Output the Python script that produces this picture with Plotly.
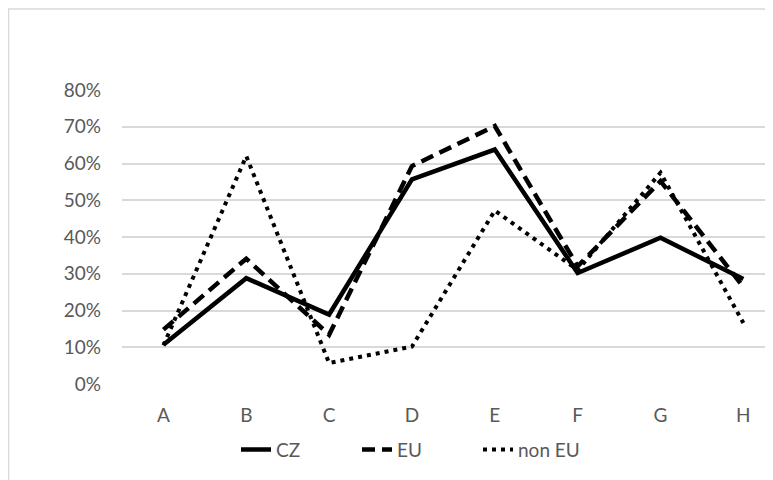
import plotly.graph_objects as go

categories = ["A", "B", "C", "D", "E", "F", "G", "H"]
cz = [0.107, 0.288, 0.189, 0.557, 0.638, 0.302, 0.398, 0.286]
eu = [0.148, 0.341, 0.134, 0.593, 0.702, 0.320, 0.552, 0.264]
non_eu = [0.105, 0.620, 0.057, 0.102, 0.472, 0.310, 0.575, 0.166]
y_ticks = [0, 0.1, 0.2, 0.3, 0.4, 0.5, 0.6, 0.7, 0.8]

# page body adds an 8px offset; figure coordinates below are page coords - 8
OFF = 8
W, H = 773 - OFF, 480 - OFF
L, R, T = 122 - OFF, 0, 90 - OFF
B = H - (384.3 - OFF)
pw, ph = W - L - R, H - T - B

def px_x(p):
    return (p - OFF - L) / pw

def px_y(p):
    return (H - B - (p - OFF)) / ph

fig = go.Figure()
fig.add_trace(go.Scatter(x=categories, y=cz, name="CZ", mode="lines",
                         line=dict(color="black", width=4.5)))
fig.add_trace(go.Scatter(x=categories, y=eu, name="EU", mode="lines",
                         line=dict(color="black", width=4.5, dash="13px,7px")))
fig.add_trace(go.Scatter(x=categories, y=non_eu, name="non EU", mode="lines",
                         line=dict(color="black", width=4, dash="4px,5px")))

font = dict(family="Lato, Calibri, sans-serif", size=19, color="#595959")

fig.update_layout(
    width=W, height=H,
    margin=dict(l=L, r=R, t=T, b=B, pad=0),
    paper_bgcolor="white", plot_bgcolor="white",
    font=font,
    showlegend=True,
    legend=dict(orientation="h", x=px_x(236), xanchor="left",
                y=px_y(450), yanchor="middle", font=font,
                bgcolor="rgba(0,0,0,0)", entrywidth=76,
                entrywidthmode="pixels"),
    xaxis=dict(type="category", range=[-0.5, 7.358], showgrid=False,
               showline=False, zeroline=False, ticks="", tickfont=font,
               ticklabelstandoff=18),
    yaxis=dict(range=[0, 0.8], tickvals=y_ticks, tickformat=".0%",
               showgrid=True, gridcolor="#d9d9d9", gridwidth=1.5,
               zeroline=False, showline=False, ticks="", tickfont=font,
               ticklabelstandoff=20),
    shapes=[dict(type="rect", xref="paper", yref="paper",
                 x0=px_x(8.5), x1=px_x(800), y0=px_y(500), y1=px_y(9),
                 line=dict(color="#d9d9d9", width=1.5), layer="below")],
)

fig.write_html("out.html")
